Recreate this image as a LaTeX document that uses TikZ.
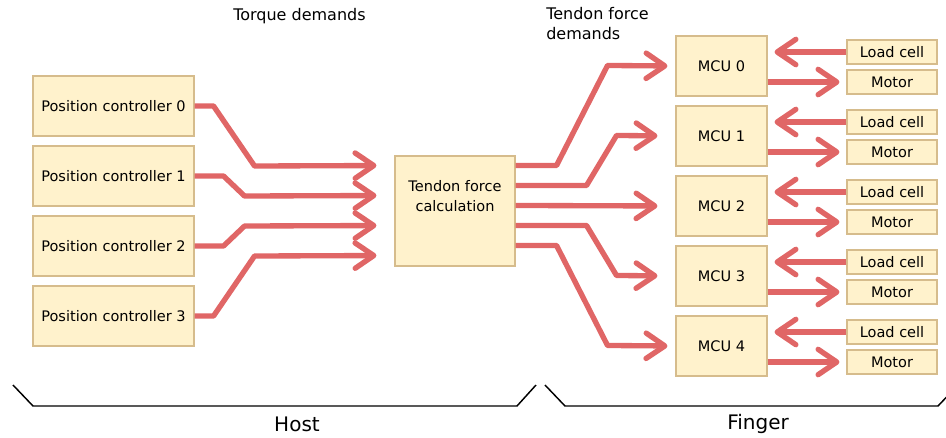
\documentclass[tikz,border=0pt]{standalone}
\usepackage{fontspec}
\setmainfont{DejaVu Sans}
\usetikzlibrary{arrows.meta,calc}

\definecolor{boxfill}{RGB}{255,242,204}
\definecolor{boxline}{RGB}{214,188,140}
\definecolor{flowred}{RGB}{224,102,102}

\begin{document}
\begin{tikzpicture}[x=0.75pt,y=-0.75pt,
  box/.style={draw=boxline,fill=boxfill,line width=0.8pt,inner sep=0pt,
    font=\fontsize{10.9}{15}\selectfont},
  pcbox/.style={box,minimum width=120.75pt,minimum height=45pt},
  calcbox/.style={box,minimum width=90pt,minimum height=82.5pt,align=center},
  mcubox/.style={box,minimum width=68.25pt,minimum height=45pt},
  iobox/.style={box,minimum width=67.5pt,minimum height=18pt},
  flow/.style={flowred,line width=4pt,line join=round,
    -{Straight Barb[length=14pt,width=19pt,round]}},
  side/.style={line width=1.1pt},
  toplabel/.style={font=\fontsize{12}{15}\selectfont,inner sep=0pt},
  sidelabel/.style={font=\fontsize{15}{18}\selectfont,inner sep=0pt}]
  \useasboundingbox (0,0) rectangle (946,437);
  \clip (0,0) rectangle (946,437);

  %boxes
  \node[pcbox] (pc0) at (113.5,106) {Position controller 0};
  \node[pcbox] (pc1) at (113.5,176) {Position controller 1};
  \node[pcbox] (pc2) at (113.5,246) {Position controller 2};
  \node[pcbox] (pc3) at (113.5,316) {Position controller 3};
  \node[calcbox] (tfc) at (455,211) {Tendon force\\calculation\\[7pt]~};

  \node[mcubox] (mcu0) at (721.5,66) {MCU 0};
  \node[mcubox] (mcu1) at (721.5,136) {MCU 1};
  \node[mcubox] (mcu2) at (721.5,206) {MCU 2};
  \node[mcubox] (mcu3) at (721.5,276) {MCU 3};
  \node[mcubox] (mcu4) at (721.5,346) {MCU 4};

  \node[iobox] (lc0) at (892,52) {Load cell};
  \node[iobox] (mot0) at (892,82) {Motor};
  \node[iobox] (lc1) at (892,122) {Load cell};
  \node[iobox] (mot1) at (892,152) {Motor};
  \node[iobox] (lc2) at (892,192) {Load cell};
  \node[iobox] (mot2) at (892,222) {Motor};
  \node[iobox] (lc3) at (892,262) {Load cell};
  \node[iobox] (mot3) at (892,292) {Motor};
  \node[iobox] (lc4) at (892,332) {Load cell};
  \node[iobox] (mot4) at (892,362) {Motor};

  %labels
  \node[toplabel,anchor=west] (torque) at (233,16) {Torque demands};
  \node[toplabel,anchor=north west,align=left] (tendon) at (546,7) {Tendon force\\demands};
  \node[sidelabel] (host) at (297,424) {Host};
  \node[sidelabel] (finger) at (758,424) {Finger};

  %torque demands
  \draw[flow,shorten >=13.5pt] (pc0.east) -- ++(19,0) -- ++(41,60) -- ($(tfc.north west)+(0,10)$);
  \draw[flow,shorten >=13.5pt] (pc1.east) -- ++(29,0) -- ++(21,20) -- ($(tfc.north west)+(0,40)$);
  \draw[flow,shorten >=13.5pt] (pc2.east) -- ++(29,0) -- ++(21,-20) -- ($(tfc.north west)+(0,70)$);
  \draw[flow,shorten >=13.5pt] (pc3.east) -- ++(19,0) -- ++(41,-60) -- ($(tfc.north west)+(0,100)$);

  %tendon force demands
  \draw[flow,shorten >=6pt] ($(tfc.north east)+(0,10)$) -- ++(41,0) -- ++(51,-100) -- (mcu0.west);
  \draw[flow,shorten >=13.5pt] ($(tfc.north east)+(0,30)$) -- ++(71,0) -- ++(30,-50) -- (mcu1.west);
  \draw[flow,shorten >=13.5pt] ($(tfc.north east)+(0,50)$) -- (mcu2.west);
  \draw[flow,shorten >=13.5pt] ($(tfc.north east)+(0,70)$) -- ++(71,0) -- ++(30,50) -- (mcu3.west);
  \draw[flow,shorten >=6pt] ($(tfc.north east)+(0,90)$) -- ++(41,0) -- ++(51,100) -- (mcu4.west);

  %load cells and motors
  \draw[flow,shorten >=5.25pt] (lc0.west) -- (mcu0.east |- lc0.west);
  \draw[flow,shorten >=5.25pt] (mcu0.east |- mot0.west) -- (mot0.west);
  \draw[flow,shorten >=5.25pt] (lc1.west) -- (mcu1.east |- lc1.west);
  \draw[flow,shorten >=5.25pt] (mcu1.east |- mot1.west) -- (mot1.west);
  \draw[flow,shorten >=5.25pt] (lc2.west) -- (mcu2.east |- lc2.west);
  \draw[flow,shorten >=5.25pt] (mcu2.east |- mot2.west) -- (mot2.west);
  \draw[flow,shorten >=5.25pt] (lc3.west) -- (mcu3.east |- lc3.west);
  \draw[flow,shorten >=5.25pt] (mcu3.east |- mot3.west) -- (mot3.west);
  \draw[flow,shorten >=5.25pt] (lc4.west) -- (mcu4.east |- lc4.west);
  \draw[flow,shorten >=5.25pt] (mcu4.east |- mot4.west) -- (mot4.west);

  %host and finger
  \draw[side] (13,385) -- (33,406) -- (517,406) -- (536,385);
  \draw[side] (545,385) -- (565,406) -- (938,406) -- (958,385);
\end{tikzpicture}
\end{document}
